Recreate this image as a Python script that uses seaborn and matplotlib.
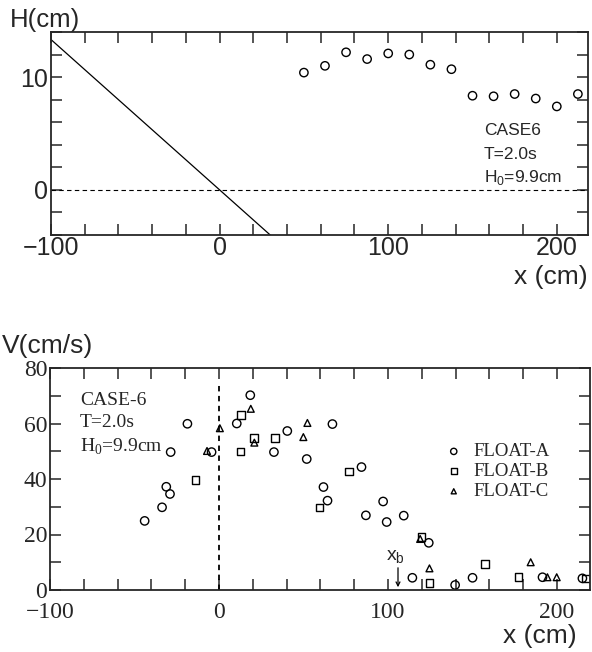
import numpy as np
import pandas as pd
import matplotlib
matplotlib.use('Agg')
import matplotlib.pyplot as plt
import seaborn as sns
from matplotlib.ticker import MultipleLocator

# ---------------- data ----------------
# top panel: wave height H along x
h_x = [50, 62.5, 75, 87.5, 100, 112.5, 125, 137.5, 150, 162.5, 175, 187.5, 200, 212.5]
h_val = [10.4, 11.0, 12.2, 11.6, 12.1, 12.0, 11.1, 10.7, 8.35, 8.3, 8.5, 8.1, 7.4, 8.5]
# beach slope line (1:7.5)
slope_x = [-100, 31]
slope_h = [13.33, -4.13]

# bottom panel: float velocities
a_x = [-44, -33.7, -31.2, -29, -28.6, -18.7, -4.4, 10.5, 18.5, 32.5, 40.4, 51.9, 61.8, 64.2,
       67.1, 84.3, 86.9, 97.1, 99.2, 109.3, 114.4, 124.1, 139.7, 150, 191.4, 215]
a_v = [24.9, 29.8, 37.2, 34.6, 49.7, 59.9, 49.7, 60, 70.2, 49.7, 57.3, 47.2, 37.1, 32.2,
       59.8, 44.3, 26.9, 31.9, 24.5, 26.8, 4.4, 17, 1.8, 4.4, 4.6, 4.2]
b_x = [-13.8, 12.6, 12.9, 20.7, 33, 59.4, 77, 119.7, 124.5, 157.2, 177.3, 217]
b_v = [39.6, 49.9, 63, 54.7, 54.7, 29.8, 42.7, 19.2, 2.5, 9.4, 4.6, 4.2]
c_x = [-7.1, 0.5, 18.8, 20.9, 49.9, 52.3, 119, 124.5, 184.4, 194.3, 199.8]
c_v = [50.1, 58.3, 65.3, 53.1, 55.1, 60.2, 18.4, 7.8, 10, 4.6, 4.6]
float_names = ['FLOAT-A', 'FLOAT-B', 'FLOAT-C']
xb_pos = 105.9

# ---------------- style ----------------
sns.set_style('ticks')
sans = ['Liberation Sans', 'DejaVu Sans']
serif = ['Liberation Serif', 'DejaVu Serif']
plt.rcParams['font.family'] = sans
plt.rcParams['axes.linewidth'] = 1.3

fig = plt.figure(figsize=(5.92, 6.52), dpi=100)
W, H = 592, 652
ax1 = fig.add_axes([51 / W, 1 - 235 / H, (588 - 51) / W, (235 - 32) / H])
ax2 = fig.add_axes([50 / W, 1 - 590 / H, (590 - 50) / W, (590 - 368) / H])

# ---------------- top panel ----------------
top_df = pd.DataFrame({'x': h_x, 'H': h_val})
sns.scatterplot(data=top_df, x='x', y='H', ax=ax1, marker='o', s=36,
                facecolors='none', edgecolor='black', linewidth=1.0, color='black')
sns.lineplot(x=slope_x, y=slope_h, ax=ax1, color='black', linewidth=0.9)
ax1.axhline(0, color='black', linewidth=0.8, linestyle=(0, (4, 3)))
ax1.set_xlim(-100, 218.5)
ax1.set_ylim(-4, 14)
ax1.xaxis.set_major_locator(MultipleLocator(100))
ax1.xaxis.set_minor_locator(MultipleLocator(20))
ax1.yaxis.set_major_locator(MultipleLocator(10))
ax1.yaxis.set_minor_locator(MultipleLocator(2))
ax1.tick_params(which='both', direction='in', length=8, width=1.1,
                top=True, right=True, labelsize=18)
ax1.tick_params(axis='x', pad=1)
ax1.tick_params(axis='y', pad=2)
ax1.set_xlabel('')
ax1.set_ylabel('')
for t in ax1.get_xticklabels() + ax1.get_yticklabels():
    t.set_family(sans)

fs_top = 12.5
fig.text(484 / W, 1 - 135 / H, 'CASE6', fontsize=fs_top, va='baseline', ha='left')
fig.text(484 / W, 1 - 159 / H, 'T=2.0s', fontsize=fs_top, va='baseline', ha='left')
fig.text(484 / W, 1 - 182 / H, r'H$_{\mathregular{0}}$=9.9cm', fontsize=fs_top,
         va='baseline', ha='left')
fig.text(10 / W, 1 - 27 / H, 'H(cm)', fontsize=18.5, va='baseline', ha='left')
fig.text(588 / W, 1 - 284 / H, 'x (cm)', fontsize=19, va='baseline', ha='right')

# ---------------- bottom panel ----------------
bot_df = pd.concat([
    pd.DataFrame({'x': a_x, 'V': a_v, 'float': float_names[0]}),
    pd.DataFrame({'x': b_x, 'V': b_v, 'float': float_names[1]}),
    pd.DataFrame({'x': c_x, 'V': c_v, 'float': float_names[2]}),
], ignore_index=True)
markers = {float_names[0]: 'o', float_names[1]: 's', float_names[2]: '^'}
sizes = {float_names[0]: 36, float_names[1]: 30, float_names[2]: 24}
for name in float_names:
    sub = bot_df[bot_df['float'] == name]
    sns.scatterplot(data=sub, x='x', y='V', ax=ax2, marker=markers[name], s=sizes[name],
                    facecolors='none', edgecolor='black', linewidth=1.0, color='black',
                    label=name)
ax2.axvline(0, ymin=0, ymax=75 / 80, color='black', linewidth=1.3, linestyle=(0, (3, 2.5)))
ax2.set_xlim(-100, 219.5)
ax2.set_ylim(0, 80)
ax2.xaxis.set_major_locator(MultipleLocator(100))
ax2.xaxis.set_minor_locator(MultipleLocator(20))
ax2.yaxis.set_major_locator(MultipleLocator(20))
ax2.yaxis.set_minor_locator(MultipleLocator(10))
ax2.tick_params(which='both', direction='in', length=8, width=1.1,
                top=True, right=True, labelsize=17)
ax2.tick_params(axis='x', pad=9)
ax2.tick_params(axis='y', pad=2)
ax2.set_xlabel('')
ax2.set_ylabel('')
for t in ax2.get_xticklabels() + ax2.get_yticklabels():
    t.set_family(serif)

leg = ax2.legend(loc='center left', bbox_to_anchor=(435 / W, 1 - 471.7 / H),
                 bbox_transform=fig.transFigure, frameon=False, borderpad=0,
                 handlelength=1.0, handletextpad=0.55, labelspacing=0.15,
                 markerscale=0.75, prop={'family': serif, 'size': 13.5})

fs_bot = 14
fig.text(80 / W, 1 - 405 / H, 'CASE-6', fontsize=fs_bot, va='baseline', ha='left', family=serif)
fig.text(80 / W, 1 - 427 / H, 'T=2.0s', fontsize=fs_bot, va='baseline', ha='left', family=serif)
fig.text(80 / W, 1 - 452 / H, r'H$_{\mathregular{0}}$=9.9cm', fontsize=fs_bot,
         va='baseline', ha='left', family=serif)
ax2.annotate('', xy=(xb_pos, 1.0), xytext=(xb_pos, 8.0),
             arrowprops=dict(arrowstyle='->', color='black', lw=0.9,
                             shrinkA=0, shrinkB=0, mutation_scale=7))
ax2.text(xb_pos - 1.3, 10.6, r'x$_{\mathregular{b}}$', ha='center', va='baseline',
         fontsize=14, family=sans)
fig.text(2 / W, 1 - 353 / H, 'V(cm/s)', fontsize=19, va='baseline', ha='left')
fig.text(577 / W, 1 - 643 / H, 'x (cm)', fontsize=19, va='baseline', ha='right')

fig.savefig('out.png', dpi=100)
